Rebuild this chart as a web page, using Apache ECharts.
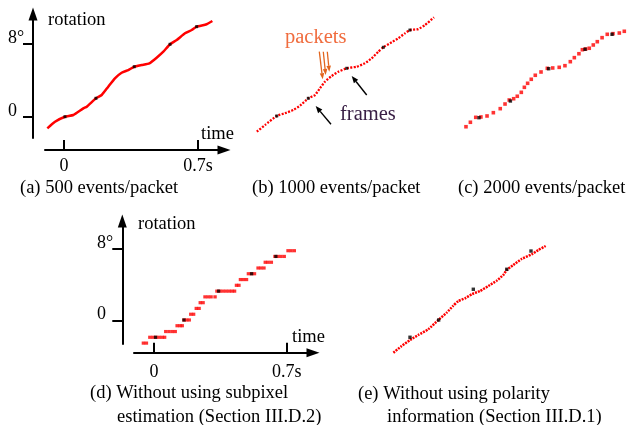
<!DOCTYPE html>
<html><head><meta charset="utf-8">
<script src="https://cdn.jsdelivr.net/npm/echarts@6/dist/echarts.min.js"></script>
<style>html,body{margin:0;padding:0;background:#fff}#c{width:629px;height:425px}</style>
</head><body><div id="c"></div>
<script>
// ---------------- DATA ----------------
const xTickValues = [0, 0.7];
const xTickLabels = ['0', '0.7s'];
const yTickValues = [0, 8];
const yTickLabels = ['0', '8°'];

// (a) 500 events/packet (time in s, rotation in degrees)
const aT   = [-0.087,-0.047,0.005,0.049,0.101,0.119,0.167,0.197,0.231,0.266,0.301,0.336,0.367,0.406,0.446,0.484,0.519,0.554,0.589,0.632,0.667,0.693,0.745,0.775];
const aDeg = [-1.24,-0.52,0.03,0.22,0.95,1.13,2.05,2.41,3.32,4.24,4.85,5.15,5.51,5.70,5.88,6.50,7.16,7.97,8.44,9.17,9.53,9.90,10.16,10.52];
const aFrameT   = [0.005,0.167,0.367,0.554,0.693];
const aFrameDeg = [0.03,2.05,5.51,7.97,9.90];

// (b) 1000 events/packet
const bT   = [-0.104,-0.061,0,0.043,0.087,0.122,0.165,0.200,0.226,0.252,0.287,0.322,0.366,0.418,0.461,0.496,0.531,0.557,0.601,0.635,0.670,0.696,0.740,0.775,0.822];
const bDeg = [-1.72,-0.99,0,0.30,0.66,1.13,1.94,2.30,3.04,3.76,4.38,4.85,5.23,5.40,5.78,6.32,7.05,7.53,8.08,8.52,9.06,9.42,9.53,9.97,10.82];
const bFrameT   = [0,0.165,0.366,0.557,0.696];
const bFrameDeg = [0,1.94,5.23,7.53,9.42];

// (c) 2000 events/packet
const cT   = [-0.068,-0.045,-0.017,0.010,0.042,0.075,0.111,0.136,0.158,0.181,0.200,0.221,0.237,0.254,0.273,0.294,0.324,0.357,0.385,0.419,0.449,0.477,0.498,0.522,0.540,0.557,0.576,0.597,0.618,0.643,0.670,0.700,0.733,0.759];
const cDeg = [-0.99,-0.50,0.04,0.08,0.19,0.55,0.99,1.50,1.94,2.08,2.35,2.78,3.33,3.77,4.21,4.65,5.01,5.41,5.45,5.52,5.70,6.14,6.58,7.01,7.45,7.53,7.61,7.97,8.33,8.77,9.14,9.21,9.28,9.47];
const cFrameT   = [0,0.164,0.364,0.554,0.695];
const cFrameDeg = [0,1.83,5.37,7.50,9.14];

// (d) without subpixel estimation (quantized)
const dT   = [-0.056,-0.040,
              -0.022,-0.006,0.010,0.026,0.042,0.056,
              0.062,0.079,0.096,0.112,
              0.122,0.137,0.149,
              0.158,0.172,0.186,
              0.194,0.209,
              0.223,0.238,
              0.244,0.259,
              0.269,0.285,0.301,0.322,
              0.332,0.348,0.364,0.380,0.396,0.411,0.425,
              0.435,0.448,
              0.456,0.472,0.488,
              0.498,0.514,0.530,
              0.549,0.564,0.580,
              0.587,0.602,0.619,
              0.638,0.654,0.670,0.687,
              0.707,0.723,0.740];
const dDeg = [-2.50,-2.50,
              -1.85,-1.85,-1.85,-1.85,-1.85,-1.85,
              -1.21,-1.21,-1.21,-1.21,
              -0.56,-0.56,-0.56,
              0.08,0.08,0.08,
              0.72,0.72,
              1.37,1.37,
              2.01,2.01,
              2.66,2.66,2.66,2.66,
              3.30,3.30,3.30,3.30,3.30,3.30,3.30,
              3.95,3.95,
              4.59,4.59,4.59,
              5.24,5.24,5.24,
              5.88,5.88,5.88,
              6.52,6.52,6.52,
              7.17,7.17,7.17,7.17,
              7.81,7.81,7.81];
const dFrameT   = [0.008,0.158,0.341,0.515,0.643];
const dFrameDeg = [-1.85,0.08,3.30,5.24,7.17];

// (e) without polarity information
const eT   = [-0.094,-0.047,0,0.047,0.103,0.160,0.207,0.245,0.273,0.311,0.352,0.396,0.443,0.490,0.527,0.547,0.584,0.631,0.688,0.725,0.767];
const eDeg = [-1.39,-0.66,0,0.55,1.17,2.19,2.99,3.76,4.27,4.57,5.04,5.37,5.92,6.50,7.12,7.67,8.22,8.88,9.39,9.86,10.30];
const eFrameT   = [0,0.162,0.358,0.547,0.684];
const eFrameDeg = [0.30,2.19,5.56,7.75,9.75];

// ---------------- LAYOUT ----------------
const FONT = "'Liberation Serif','Times New Roman',serif";
const RED = '#ff0000';
const zip = (t, v) => t.map((x, i) => [x, v[i]]);

const PA = {left:45, right:224, top:14, bottom:138, x0:64, x07:198, y0:117, y8:44, yAxisX:33, xAxisY:150, yLabLeft:8, xLabMargin:7};
const PD = {left:134, right:313, top:221, bottom:344, x0:154, x07:286.7, y0:320.7, y8:249, yAxisX:122.3, xAxisY:352.7, yLabLeft:97, xLabMargin:11};
const PB = {ox:276.7, oy:116,   sx:191.43, sy:9.125, xr:[-0.15,0.85], yr:[-3,12]};
const PC = {ox:479,   oy:117.7, sx:191.43, sy:9.125, xr:[-0.10,0.78], yr:[-3,12]};
const PE = {ox:410,   oy:340,   sx:176.9,  sy:9.125, xr:[-0.15,0.85], yr:[-3,12]};

const grids = [], xAxes = [], yAxes = [];
function tickLabel(vals, labs){ return v => { const i = vals.findIndex(t => Math.abs(t - v) < 1e-6); return i < 0 ? '' : labs[i]; }; }

function visiblePanel(P){
  const gi = grids.length;
  const sx = (P.x07 - P.x0) / 0.7, sy = (P.y0 - P.y8) / 8;
  grids.push({left:P.left, top:P.top, width:P.right - P.left, height:P.bottom - P.top});
  const line = {show:true, onZero:false, lineStyle:{color:'#000', width:2}, symbol:['none','triangle'], symbolSize:[9,13]};
  xAxes.push({gridIndex:gi, type:'value', position:'bottom', offset:P.xAxisY - P.bottom,
    min:(P.left - P.x0)/sx, max:(P.right - P.x0)/sx,
    axisLine:line,
    axisTick:{show:true, inside:true, length:10, lineStyle:{color:'#000', width:2}, customValues:xTickValues},
    axisLabel:{show:true, customValues:xTickValues, formatter:tickLabel(xTickValues, xTickLabels), color:'#000', fontFamily:FONT, fontSize:18, margin:P.xLabMargin},
    splitLine:{show:false}});
  yAxes.push({gridIndex:gi, type:'value', position:'left', offset:P.left - P.yAxisX,
    min:(P.y0 - P.bottom)/sy, max:(P.y0 - P.top)/sy,
    axisLine:line,
    axisTick:{show:true, inside:false, length:10, lineStyle:{color:'#000', width:2}, customValues:yTickValues},
    axisLabel:{show:true, customValues:yTickValues, formatter:tickLabel(yTickValues, yTickLabels), color:'#000', fontFamily:FONT, fontSize:18,
      align:'left', verticalAlign:'bottom', lineHeight:12, margin:P.yAxisX - P.yLabLeft},
    splitLine:{show:false}});
  return gi;
}
function hiddenPanel(P){
  const gi = grids.length;
  grids.push({left:P.ox + P.xr[0]*P.sx, top:P.oy - P.yr[1]*P.sy, width:(P.xr[1]-P.xr[0])*P.sx, height:(P.yr[1]-P.yr[0])*P.sy});
  xAxes.push({gridIndex:gi, type:'value', show:false, min:P.xr[0], max:P.xr[1]});
  yAxes.push({gridIndex:gi, type:'value', show:false, min:P.yr[0], max:P.yr[1]});
  return gi;
}
const gA = visiblePanel(PA);
const gB = hiddenPanel(PB);
const gC = hiddenPanel(PC);
const gD = visiblePanel(PD);
const gE = hiddenPanel(PE);

function frames(gi, t, v, size){
  return {type:'scatter', xAxisIndex:gi, yAxisIndex:gi, data:zip(t, v), symbol:'rect', symbolSize:size||3,
    itemStyle:{color:'#000'}, z:5, clip:false, silent:true};
}
const series = [
  {type:'line', xAxisIndex:gA, yAxisIndex:gA, data:zip(aT, aDeg), showSymbol:false, smooth:0.15,
    lineStyle:{color:RED, width:2.5}, z:3, clip:false, silent:true},
  frames(gA, aFrameT, aFrameDeg, 3),
  {type:'line', xAxisIndex:gB, yAxisIndex:gB, data:zip(bT, bDeg), showSymbol:false, smooth:0.15,
    lineStyle:{color:RED, width:2.3, type:[2,1.4], cap:'butt'}, z:3, clip:false, silent:true},
  frames(gB, bFrameT, bFrameDeg, 3),
  {type:'scatter', xAxisIndex:gC, yAxisIndex:gC, data:zip(cT, cDeg), symbol:'rect', symbolSize:3.6,
    itemStyle:{color:RED}, z:3, clip:false, silent:true},
  frames(gC, cFrameT, cFrameDeg, 3.4),
  {type:'scatter', xAxisIndex:gD, yAxisIndex:gD, data:zip(dT, dDeg), symbol:'rect', symbolSize:[3.4,3.2],
    itemStyle:{color:RED}, z:3, clip:false, silent:true},
  frames(gD, dFrameT, dFrameDeg, 3.2),
  {type:'line', xAxisIndex:gE, yAxisIndex:gE, data:zip(eT, eDeg), showSymbol:false, smooth:0.15,
    lineStyle:{color:RED, width:2.5, type:[2,1], cap:'butt'}, z:3, clip:false, silent:true},
  frames(gE, eFrameT, eFrameDeg, 3.4)
];

// ---------------- TEXT & ANNOTATIONS ----------------
function txt(s, x, y, size, color){
  return {type:'text', x:x, y:y, z:10, style:{text:s, font:size + 'px ' + FONT, fill:color || '#000', align:'left', verticalAlign:'middle'}};
}
function arrow(x1, y1, x2, y2, color, w, hl, hw){
  const dx = x2 - x1, dy = y2 - y1, L = Math.hypot(dx, dy), ux = dx / L, uy = dy / L;
  const bx = x2 - ux*hl, by = y2 - uy*hl;
  return [
    {type:'line', z:10, shape:{x1:x1, y1:y1, x2:bx, y2:by}, style:{stroke:color, lineWidth:w}},
    {type:'polygon', z:10, shape:{points:[[x2,y2],[bx - uy*hw/2, by + ux*hw/2],[bx + uy*hw/2, by - ux*hw/2]]}, style:{fill:color}}
  ];
}
const ORANGE_T = '#f06c3e', ORANGE_A = '#e2651e', PURPLE = '#3a2046';
const graphic = [
  txt('rotation', 48, 20, 18.5), txt('time', 201, 134, 18.5),
  txt('rotation', 138, 224, 18.5), txt('time', 292, 337, 18.5),
  txt('(a) 500 events/packet', 20, 188, 18.5),
  txt('(b) 1000 events/packet', 252, 188, 18.5),
  txt('(c) 2000 events/packet', 458, 188, 18.5),
  txt('(d) Without using subpixel', 90, 393, 18.5),
  txt('estimation (Section III.D.2)', 117, 417, 18.5),
  txt('(e) Without using polarity', 358, 394, 18.5),
  txt('information (Section III.D.1)', 387, 417, 18.5),
  txt('packets', 285, 38, 20.5, ORANGE_T),
  txt('frames', 340, 115, 20.5, PURPLE)
].concat(
  arrow(319.3, 51.7, 322.7, 79.3, ORANGE_A, 1.3, 6, 4.5),
  arrow(323.3, 51.7, 325.7, 75.0, ORANGE_A, 1.3, 6, 4.5),
  arrow(327.3, 51.7, 329.3, 71.7, ORANGE_A, 1.3, 6, 4.5),
  arrow(331.0, 124.3, 315.7, 106.0, '#000', 1.4, 7, 5.5),
  arrow(366.7, 95.0, 351.7, 76.0, '#000', 1.4, 7, 5.5)
);

const chart = echarts.init(document.getElementById('c'), null, {renderer:'canvas'});
chart.setOption({animation:false, backgroundColor:'#fff', grid:grids, xAxis:xAxes, yAxis:yAxes, series:series, graphic:graphic});
</script></body></html>
